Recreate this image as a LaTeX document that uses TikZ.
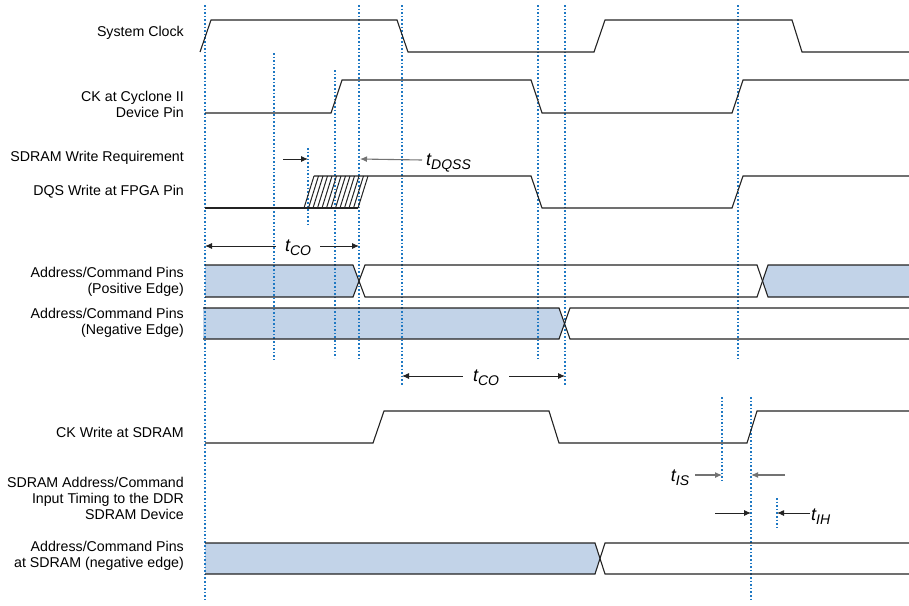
\documentclass[tikz,border=0pt]{standalone}
\usepackage{fontspec}
\setmainfont{Liberation Sans}
\usetikzlibrary{arrows.meta}
\definecolor{sigc}{RGB}{35,35,35}
\definecolor{dotc}{RGB}{30,120,195}
\definecolor{busc}{RGB}{194,211,232}
\definecolor{arrgc}{RGB}{115,115,115}
\newcommand{\tsub}[1]{{\fontsize{18}{18}\selectfont\itshape t\raisebox{-0.45ex}{\fontsize{14}{14}\selectfont #1}}}
\begin{document}
\begin{tikzpicture}[x=1pt,y=-1pt,
 sig/.style={draw=sigc,line width=1.1pt,line join=miter},
 hatchline/.style={draw=sigc,line width=1pt},
 guide/.style={draw=dotc,line width=1.3pt,dash pattern=on 1.6pt off 2pt},
 lab/.style={anchor=east,align=right,font=\fontsize{14.2}{16}\selectfont,inner sep=0pt},
 tim/.style={inner sep=0pt},
 arr/.style={draw=sigc,line width=0.9pt,-{Latex[length=7pt,width=6pt]}},
 arrgr/.style={draw=arrgc,line width=1.1pt,-{Latex[length=7pt,width=6pt]}}]
\useasboundingbox (0,0) rectangle (909,605);

% labels
\node[lab] (lsys) at (184,33) {System Clock};
\node[lab] (lck) at (184,104) {CK at Cyclone II\\Device Pin};
\node[lab] (lreq) at (184,158) {SDRAM Write Requirement};
\node[lab] (ldqs) at (184,192) {DQS Write at FPGA Pin};
\node[lab] (lpos) at (184,282) {Address/Command Pins\\(Positive Edge)};
\node[lab] (lneg) at (184,323) {Address/Command Pins\\(Negative Edge)};
\node[lab] (lcks) at (184,432) {CK Write at SDRAM};
\node[lab] (ltim) at (184,498) {SDRAM Address/Command\\Input Timing to the DDR\\SDRAM Device};
\node[lab] (lsd) at (184,556) {Address/Command Pins\\at SDRAM (negative edge)};

% bus fills
\fill[busc] (205,265)--(353,265)--(359,281)--(353,297)--(205,297)--cycle;
\fill[busc] (909,265)--(768,265)--(762.5,281)--(768,297)--(909,297)--cycle;
\fill[busc] (203,308)--(559,308)--(564.5,323.5)--(559,339)--(203,339)--cycle;
\fill[busc] (205,543)--(595,543)--(600,558.5)--(595,574)--(205,574)--cycle;

% guides
\foreach \gx/\gt/\gb in {205/5/600, 274/53/360, 308/148/224, 335/70/358, 359/5/360,
  402/5/385, 538/5/360, 565/5/385, 738/5/360, 722/397/480, 751/397/600, 777/498/527}
  \draw[guide] (\gx,\gt) -- (\gx,\gb);

% signals
\draw[sig] (200,52)--(211,20)--(397,20)--(408,52)--(594,52)--(605,20)--(792,20)--(802,52)--(909,52);
\draw[sig] (205,113)--(331,113)--(342,80)--(531,80)--(542,113)--(732,113)--(743,80)--(909,80);
\draw[sig] (205,208)--(358,208);
\draw[sig] (314,176)--(531,176)--(542,208)--(732,208)--(743,176)--(909,176);
\foreach \i in {0,...,12}
  \draw[hatchline] ({304+4.5*\i},208) -- ({314+4.5*\i},176);
\draw[sig] (205,443)--(373,443)--(384,411)--(549,411)--(559,443)--(747,443)--(757,411)--(909,411);

% bus outlines
\draw[sig] (205,265)--(353,265)--(365,297)--(757,297)--(768,265)--(909,265);
\draw[sig] (205,297)--(353,297)--(365,265)--(757,265)--(768,297)--(909,297);
\draw[sig] (203,308)--(559,308)--(570,339)--(909,339);
\draw[sig] (203,339)--(559,339)--(570,308)--(909,308);
\draw[sig] (205,543)--(595,543)--(605,574)--(909,574);
\draw[sig] (205,574)--(595,574)--(605,543)--(909,543);

% timing annotations
\coordinate (rqs) at (283,159);
\coordinate (rqe) at (308,159);
\draw[arr] (rqs) -- (rqe);
\node[tim,anchor=west] (tdq) at (426,163) {\tsub{DQSS}};
\coordinate (dqe) at (360,159);
\draw[arrgr] ([xshift=-4pt,yshift=3pt]tdq.west) -- (dqe);

\node[tim] (tco1) at (298,248) {\tsub{CO}};
\coordinate (co1l) at (205,246);
\coordinate (co1r) at (359,246);
\draw[arr] ([xshift=-9pt,yshift=2pt]tco1.west) -- (co1l);
\draw[arr] ([xshift=9pt,yshift=2pt]tco1.east) -- (co1r);

\node[tim] (tco2) at (486,378) {\tsub{CO}};
\coordinate (co2l) at (402,376);
\coordinate (co2r) at (565,376);
\draw[arr] ([xshift=-10pt,yshift=2pt]tco2.west) -- (co2l);
\draw[arr] ([xshift=10pt,yshift=2pt]tco2.east) -- (co2r);

\node[tim] (tis) at (680,478) {\tsub{IS}};
\coordinate (ise) at (722,475);
\coordinate (iss) at (785,475);
\coordinate (ise2) at (751,475);
\draw[arrgr] ([xshift=6pt,yshift=3pt]tis.east) -- (ise);
\draw[arrgr] (iss) -- (ise2);

\node[tim,anchor=west] (tih) at (811,517) {\tsub{IH}};
\coordinate (ihs) at (715,513);
\coordinate (ihe) at (751,513);
\coordinate (ihe2) at (777,513);
\draw[arr] (ihs) -- (ihe);
\draw[arr] ([xshift=-1pt,yshift=4pt]tih.west) -- (ihe2);
\end{tikzpicture}
\end{document}
